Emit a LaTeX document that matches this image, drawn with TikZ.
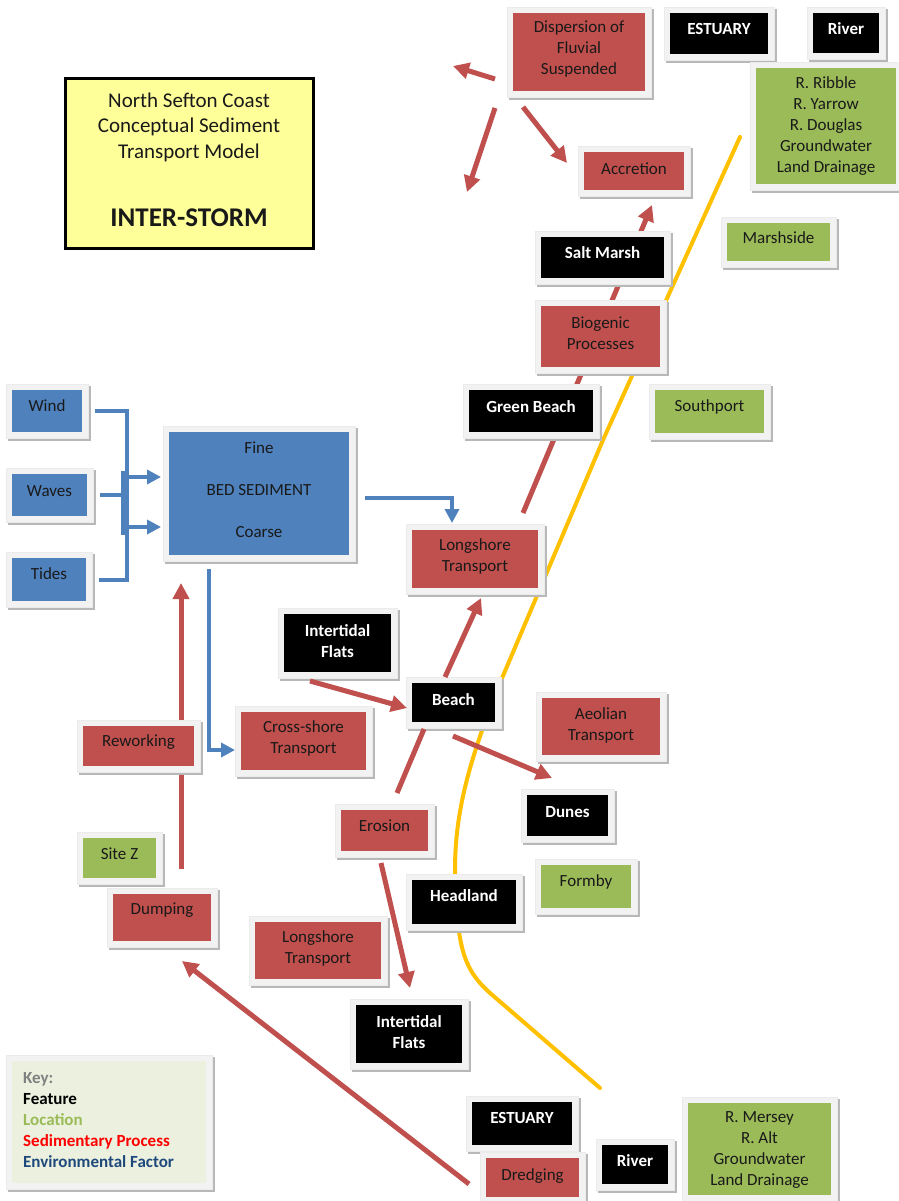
\documentclass[tikz,border=0pt]{standalone}
\usepackage{fontspec}
\setmainfont{Carlito}
\usetikzlibrary{arrows.meta,calc}
\definecolor{cred}{HTML}{C0504D}
\definecolor{cblue}{HTML}{4F81BD}
\definecolor{cgreen}{HTML}{9BBB59}
\definecolor{cyel}{HTML}{FFC000}
\definecolor{ctitle}{HTML}{FFFF99}
\definecolor{ckey}{HTML}{EBF1DE}
\definecolor{cnavy}{HTML}{1F497D}
\definecolor{cframe}{HTML}{F2F2F2}
\pgfdeclarelayer{bg}
\pgfsetlayers{bg,main}
\tikzset{
  boxn/.style={draw=none,inner sep=0pt,outer sep=0pt},
  redbox/.style={fill=cred},
  bluebox/.style={fill=cblue},
  greenbox/.style={fill=cgreen},
  blackbox/.style={fill=black},
  keybox/.style={fill=ckey},
  dtxt/.style={align=center,inner sep=0pt,text=black!90,font=\fontsize{17}{21}\selectfont},
  wtxt/.style={align=center,inner sep=0pt,text=white,font=\fontsize{17}{21}\selectfont\bfseries},
  redarr/.style={draw=cred,line width=5pt,-{Triangle[length=16pt,width=16pt]}},
  redln/.style={draw=cred,line width=5pt},
  bluearr/.style={draw=cblue,line width=4pt,-{Triangle[length=14pt,width=14pt]}},
  blueln/.style={draw=cblue,line width=4pt},
  coastln/.style={draw=cyel,line width=4pt,line cap=round},
}
\newcommand\bx[9]{%
  \fill[black!28] (#2-4,#3-4) rectangle (#4+9,#5+9);
  \fill[cframe,draw=black!8,line width=0.6pt] (#2-6,#3-6) rectangle (#4+6,#5+6);
  \node[boxn,#6,minimum width={#4-#2},minimum height={#5-#3},anchor=north west] (#1) at (#2,#3) {};
  \node[#9] (#1t) at ({(#2+#4)/2},#7) {#8};
}
\begin{document}
\begin{tikzpicture}[x=1pt,y=-1pt]
\useasboundingbox (0,0) rectangle (898,1201);

% title
\node[boxn,fill=ctitle,draw=black,line width=3pt,minimum width=248,minimum height=169,anchor=north west] (title) at (65,79) {};
\node[dtxt,font=\fontsize{21}{25.5}\selectfont] (titlet) at (189,127) {North Sefton Coast\\Conceptual Sediment\\Transport Model};
\node[dtxt,font=\fontsize{27}{30}\selectfont\bfseries] (titles) at (189,218) {INTER-STORM};

% boxes
\bx{disp}{513}{13}{645}{91}{redbox}{49}{Dispersion of\\Fluvial\\Suspended}{dtxt}
\bx{estT}{670}{13}{768}{54}{blackbox}{29}{ESTUARY}{wtxt}
\bx{rivT}{813}{13}{879}{53}{blackbox}{29}{River}{wtxt}
\bx{ribble}{756}{68}{896}{184}{greenbox}{126}{R. Ribble\\R. Yarrow\\R. Douglas\\Groundwater\\Land Drainage}{dtxt}
\bx{accr}{584}{152}{684}{190}{redbox}{169}{Accretion}{dtxt}
\bx{marsh}{727}{223}{830}{261}{greenbox}{238}{Marshside}{dtxt}
\bx{salt}{541}{237}{664}{278}{blackbox}{253}{Salt Marsh}{wtxt}
\bx{biog}{541}{306}{660}{367}{redbox}{333}{Biogenic\\Processes}{dtxt}
\bx{gbeach}{469}{390}{593}{432}{blackbox}{407}{Green Beach}{wtxt}
\bx{south}{655}{390}{764}{433}{greenbox}{407}{Southport}{dtxt}
\bx{wind}{12}{390}{82}{432}{bluebox}{406}{Wind}{dtxt}
\bx{waves}{12}{474}{87}{516}{bluebox}{491}{Waves}{dtxt}
\bx{tides}{12}{558}{86}{601}{bluebox}{574}{Tides}{dtxt}
\bx{bed}{169}{432}{349}{555}{bluebox}{490}{Fine\\[21pt]BED SEDIMENT\\[21pt]Coarse}{dtxt}
\bx{lsU}{412}{530}{538}{588}{redbox}{556}{Longshore\\Transport}{dtxt}
\bx{itfU}{284}{614}{391}{672}{blackbox}{641}{Intertidal\\Flats}{wtxt}
\bx{beach}{412}{683}{495}{722}{blackbox}{700}{Beach}{wtxt}
\bx{aeol}{542}{698}{660}{755}{redbox}{725}{Aeolian\\Transport}{dtxt}
\bx{rework}{83}{726}{194}{766}{redbox}{742}{Reworking}{dtxt}
\bx{cross}{241}{712}{366}{770}{redbox}{738}{Cross-shore\\Transport}{dtxt}
\bx{dunes}{527}{795}{608}{836}{blackbox}{812}{Dunes}{wtxt}
\bx{eros}{341}{810}{428}{851}{redbox}{826}{Erosion}{dtxt}
\bx{siteZ}{83}{838}{156}{878}{greenbox}{854}{Site Z}{dtxt}
\bx{formby}{541}{865}{631}{908}{greenbox}{882}{Formby}{dtxt}
\bx{head}{412}{880}{516}{924}{blackbox}{896}{Headland}{wtxt}
\bx{dump}{113}{894}{211}{941}{redbox}{910}{Dumping}{dtxt}
\bx{lsL}{255}{922}{381}{979}{redbox}{948}{Longshore\\Transport}{dtxt}
\bx{itfL}{356}{1005}{462}{1063}{blackbox}{1032}{Intertidal\\Flats}{wtxt}
\bx{estL}{472}{1102}{572}{1145}{blackbox}{1118}{ESTUARY}{wtxt}
\bx{dredge}{486}{1158}{579}{1197}{redbox}{1176}{Dredging}{dtxt}
\bx{rivL}{602}{1145}{668}{1184}{blackbox}{1161}{River}{wtxt}
\bx{mersey}{688}{1103}{831}{1195}{greenbox}{1150}{R. Mersey\\R. Alt\\Groundwater\\Land Drainage}{dtxt}

% key
\fill[black!28] (8,1057) rectangle (215,1192);
\fill[cframe,draw=black!8,line width=0.6pt] (6,1055) rectangle (212,1189);
\node[boxn,keybox,minimum width=194,minimum height=122,anchor=north west] (key) at (12,1061) {};
\node[align=left,anchor=west,inner sep=0pt,font=\fontsize{17}{21}\selectfont\bfseries] (keyt) at (23,1120)
  {\textcolor{black!50}{Key:}\\\textcolor{black}{Feature}\\\textcolor{cgreen}{Location}\\\textcolor{red}{Sedimentary Process}\\\textcolor{cnavy}{Environmental Factor}};

% junction coordinates
\coordinate (jw) at (127,495);
\coordinate (bedA) at (161,477);
\coordinate (bedB) at (161,527);
\coordinate (bedS) at (209,569);
\coordinate (crossIn) at (235,750);
\coordinate (bedE) at (365,498);
\coordinate (lsUin) at (452,523);
\coordinate (dispA) at (495,79);
\coordinate (outA) at (453,66);
\coordinate (dispB) at (495,108);
\coordinate (outB) at (467,192);
\coordinate (dispC) at (523,107);
\coordinate (accrIn) at (567,163);
\coordinate (lsUtop) at (523,513);
\coordinate (accrBot) at (652,205);
\coordinate (beachTop) at (445,677);
\coordinate (lsUbot) at (481,598);
\coordinate (itfUout) at (310,681);
\coordinate (beachW) at (407,708);
\coordinate (erosTop) at (397,793);
\coordinate (beachBot) at (424,729);
\coordinate (beachSE) at (453,736);
\coordinate (dunesIn) at (552,778);
\coordinate (erosBot) at (381,863);
\coordinate (itfLin) at (410,988);
\coordinate (dumpTop) at (181,869);
\coordinate (bedBot) at (181,583);
\coordinate (dredgeOut) at (469,1184);
\coordinate (dumpIn) at (182,961);

\begin{pgfonlayer}{bg}
\fill[white] (0,0) rectangle (898,1201);
% coastline
\draw[coastln] (740,137) -- (603,440) -- (497,690) .. controls (470,760) and (455,810) .. (455,870)
  .. controls (457,945) and (462,968) .. (490,993) -- (600,1088);
% red connectors behind boxes
\draw[redarr] (lsUtop) -- (accrBot);
\draw[redarr] (dumpTop) -- (bedBot);
\end{pgfonlayer}

% blue connectors
\draw[blueln] ([xshift=13pt]wind.east) -| (jw) |- ([xshift=13pt]tides.east);
\draw[blueln] ([xshift=13pt]waves.east) -- (jw);
\fill[cblue] (121,471) rectangle (128,535);
\draw[bluearr] (124,477) -- (bedA);
\draw[bluearr] (124,527) -- (bedB);
\draw[bluearr] (bedE) -| (lsUin);
\draw[bluearr] (bedS) |- (crossIn);

% red connectors
\draw[redarr] (dispA) -- (outA);
\draw[redarr] (dispB) -- (outB);
\draw[redarr] (dispC) -- (accrIn);
\draw[redarr] (beachTop) -- (lsUbot);
\draw[redarr] (itfUout) -- (beachW);
\draw[redln] (erosTop) -- (beachBot);
\draw[redarr] (beachSE) -- (dunesIn);
\draw[redarr] (erosBot) -- (itfLin);
\draw[redarr] (dredgeOut) -- (dumpIn);
\end{tikzpicture}
\end{document}
